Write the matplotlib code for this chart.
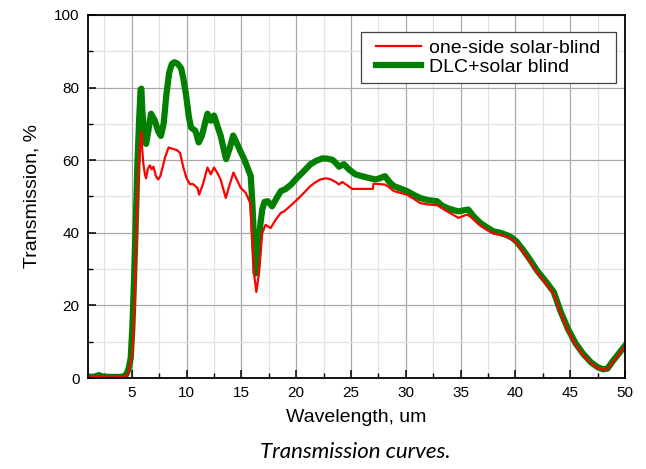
import numpy as np
import matplotlib
matplotlib.use('Agg')
import matplotlib.pyplot as plt
from matplotlib.ticker import MultipleLocator

plt.rcParams['font.family'] = ['Liberation Sans', 'DejaVu Sans']

# one-side solar-blind (red)
red_x = [1.0, 1.5, 2.0, 2.5, 3.0, 3.5, 4.0, 4.4, 4.7, 5.0,
         5.15, 5.3, 5.45, 5.6, 5.75, 5.87, 5.95, 6.05, 6.2, 6.3,
         6.45, 6.65, 6.8, 6.97, 7.2, 7.4, 7.6, 7.85, 8.05, 8.35,
         8.65, 9.1, 9.4, 9.7, 10.0, 10.3, 10.6, 11.0, 11.14, 11.5,
         11.9, 12.2, 12.5, 12.8, 13.1, 13.35, 13.57, 13.9, 14.27, 14.6,
         14.93, 15.4, 15.8, 16.0, 16.15, 16.36, 16.6, 16.9, 17.2, 17.67,
         18.1, 18.6, 18.9, 19.5, 20.1, 20.7, 21.3, 21.8, 22.2, 22.7,
         23.1, 23.6, 23.9, 24.2, 24.6, 25.1, 26.0, 27.0, 27.05, 27.2,
         28.1, 28.5, 28.9, 29.5, 30.1, 30.7, 31.3, 32.0, 32.85, 33.3,
         33.76, 34.3, 34.8, 35.3, 35.6, 35.9, 36.8, 37.4, 38.0, 38.6,
         39.2, 39.7, 40.1, 40.7, 41.35, 42.0, 42.8, 43.5, 44.1, 44.8,
         45.5, 46.2, 46.9, 47.5, 48.0, 48.4, 48.9, 49.5, 50.0]
red_t = [0.2, 0.3, 0.4, 0.2, 0.2, 0.2, 0.2, 0.4, 1.5, 6,
         12, 26, 44, 57, 64, 67.8, 63, 59, 56, 55,
         57.5, 58.6, 57.5, 58.2, 55.6, 54.7, 55.6, 58.5, 61, 63.5,
         63.2, 62.8, 62, 58, 55, 53.4, 53.4, 52.3, 50.5, 53.5,
         58, 56.1, 58, 56.5, 54.7, 52, 49.6, 53, 56.6, 54.5,
         52.4, 51, 48.2, 38, 28.8, 23.7, 28.8, 39.9, 42.2, 41.3,
         43.5, 45.5, 45.9, 47.5, 49.2, 51, 52.9, 54, 54.7, 55,
         54.8, 54, 53.3, 54, 53.2, 52.1, 52.1, 52.1, 53.5, 53.5,
         53.3, 52.5, 51.5, 51, 50.5, 49.4, 48.2, 47.8, 47.6, 46.8,
         45.9, 45, 44.1, 44.7, 45, 44.4, 42, 40.8, 39.8, 39.4,
         39, 38.2, 37.2, 34.8, 32, 29, 26, 23.2, 18, 13,
         9.1, 6.2, 4.1, 2.8, 2.3, 2.5, 4.4, 6.8, 8.8]

# DLC + solar blind (green)
green_x = [1.0, 1.5, 2.0, 2.3, 3.0, 3.5, 4.0, 4.3, 4.5, 4.7,
           4.9, 5.05, 5.2, 5.35, 5.5, 5.65, 5.8, 5.87, 5.95, 6.1,
           6.3, 6.5, 6.75, 7.1, 7.4, 7.65, 7.9, 8.15, 8.4, 8.65,
           8.9, 9.2, 9.5, 9.7, 9.95, 10.2, 10.4, 10.8, 11.1, 11.4,
           11.7, 11.9, 12.2, 12.5, 12.8, 13.1, 13.35, 13.6, 13.9, 14.25,
           14.6, 14.9, 15.25, 15.55, 15.85, 16.0, 16.15, 16.3, 16.45, 16.6,
           16.75, 16.9, 17.1, 17.4, 17.8, 18.2, 18.6, 19.0, 19.5, 20.1,
           20.7, 21.3, 21.8, 22.4, 22.9, 23.3, 23.6, 23.9, 24.35, 24.8,
           25.4, 26.0, 26.5, 27.2, 27.6, 28.1, 28.5, 28.9, 29.5, 30.1,
           30.7, 31.3, 32.0, 32.85, 33.3, 33.8, 34.3, 34.8, 35.3, 35.7,
           36.2, 36.8, 37.4, 38.0, 38.6, 39.2, 39.7, 40.1, 40.7, 41.35,
           42.0, 42.8, 43.5, 44.1, 44.8, 45.5, 46.2, 46.9, 47.5, 48.0,
           48.4, 48.9, 49.5, 50.0]
green_t = [0.4, 0.3, 0.8, 0.4, 0.3, 0.3, 0.3, 0.5, 1.0, 2.5,
           5.6, 14, 27, 42, 58, 70, 79.5, 79.7, 74, 68,
           64.5, 68, 72.8, 70.9, 68, 66.7, 70, 78, 84, 86.5,
           87, 86.5, 85.3, 82.5, 77.9, 72, 69, 68.1, 64.9, 66.8,
           70.5, 72.8, 70.9, 72.3, 69.5, 66.8, 63.5, 60.3, 63, 66.8,
           64.5, 62.5, 60.3, 58, 55.6, 48, 38, 28.8, 31, 38,
           43, 46.4, 48.5, 48.7, 47.3, 49.5, 51.5, 52, 53.2, 55.2,
           57, 58.9, 59.8, 60.5, 60.4, 60.1, 59.3, 58.2, 58.9, 57.5,
           56.1, 55.6, 55.2, 54.7, 55.0, 55.6, 54, 52.9, 52.2, 51.5,
           50.5, 49.6, 49.0, 48.7, 47.5, 46.8, 46.3, 45.9, 46.2, 46.4,
           44.5, 42.7, 41.5, 40.4, 40.0, 39.4, 38.6, 37.6, 35.3, 32.5,
           29.5, 26.5, 23.7, 18.5, 13.5, 9.5, 6.6, 4.3, 3.0, 2.4,
           2.6, 4.7, 7.0, 8.9]

x_ticks = [5, 10, 15, 20, 25, 30, 35, 40, 45, 50]
y_ticks = [0, 20, 40, 60, 80, 100]

fig = plt.figure(figsize=(6.46, 4.69), dpi=100)
ax = fig.add_axes([88/646, 1-378/469, (625-88)/646, (378-15)/469])

lg, = ax.plot(green_x, green_t, color='#007f00', lw=4.5, solid_joinstyle='round', zorder=3)
lr, = ax.plot(red_x, red_t, color='#ff0000', lw=1.6, zorder=4)

ax.set_xlim(1, 50)
ax.set_ylim(0, 100)
ax.set_xticks(x_ticks)
ax.set_yticks(y_ticks)
ax.xaxis.set_minor_locator(MultipleLocator(2.5))
ax.yaxis.set_minor_locator(MultipleLocator(10))
ax.tick_params(which='major', direction='in', length=6, width=1.1, labelsize=11, pad=6)
ax.tick_params(axis='y', which='major', pad=6)
ax.tick_params(which='minor', direction='in', length=3.5, width=1.0)
ax.grid(which='major', color='#a8a8a8', lw=0.9, zorder=0)
ax.grid(which='minor', color='#e2e2e2', lw=0.9, zorder=0)
ax.set_axisbelow(True)
for s in ax.spines.values():
    s.set_linewidth(1.3)
    s.set_zorder(5)

ax.set_xlabel('Wavelength, um', fontsize=14, labelpad=6)
ax.set_ylabel('Transmission, %', fontsize=14, labelpad=10)

leg = ax.legend([lr, lg], ['one-side solar-blind', 'DLC+solar blind'], loc='upper right',
                bbox_to_anchor=(0.965, 0.95), borderaxespad=0, fontsize=14, fancybox=False,
                edgecolor='#404040', framealpha=1, handlelength=2.3, handletextpad=0.4,
                labelspacing=0.1, borderpad=0.3)
# wider side padding on the frame than top/bottom
frame = leg.get_frame()
frame.set_boxstyle('square', pad=0.5)
frame.set_mutation_aspect(0.1)
frame.set_linewidth(0.9)

fig.text(0.55, 0.036, 'Transmission curves.', fontsize=16, style='italic',
         family=['Lato', 'DejaVu Sans'], ha='center', va='center')

fig.savefig('out.png', dpi=100)
